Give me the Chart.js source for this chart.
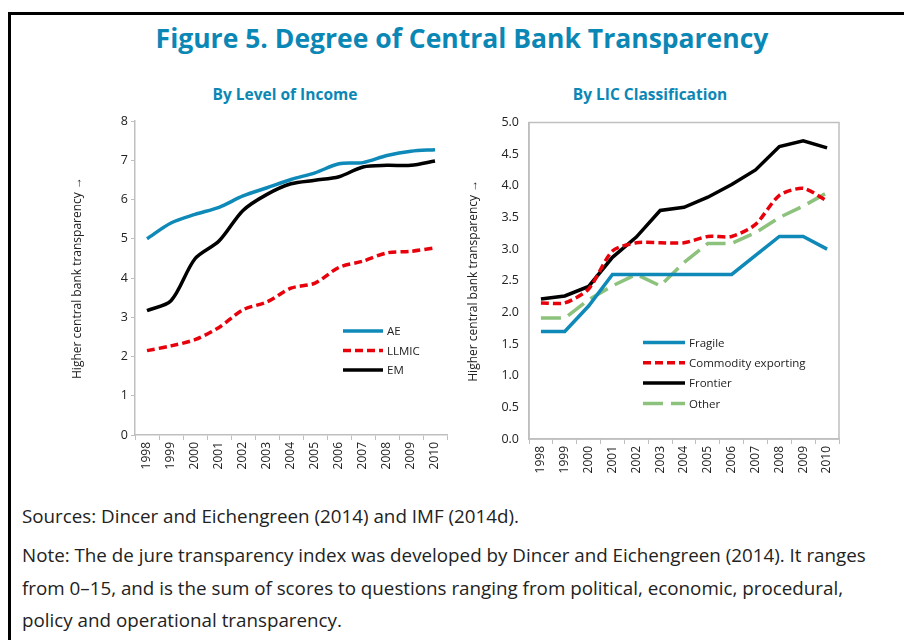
<!DOCTYPE html>
<html>
<head>
<meta charset="utf-8">
<script src="https://cdn.jsdelivr.net/npm/chart.js@4.4.1/dist/chart.umd.min.js"></script>
<style>
  body { margin: 0; background: #fff; font-family: 'Open Sans', sans-serif; }
  #page { position: relative; width: 904px; height: 640px; overflow: hidden; }
  #frame { position: absolute; left: 8px; top: 12px; width: 920px; height: 660px;
    border-top: 3px solid #000; border-left: 3px solid #000; }
  #title { position: absolute; left: 0; width: 924px; top: 20px; text-align: center;
    font-size: 26.5px; font-weight: 700; color: #0b87b5; line-height: 36px; }
  .sub { position: absolute; top: 83px; font-size: 15.5px; font-weight: 700; color: #0b87b5;
    text-align: center; width: 300px; line-height: 22px; }
  canvas { position: absolute; }
  .note { position: absolute; left: 22px; font-size: 18.8px; color: #222; line-height: 32.5px;
    white-space: nowrap; }
</style>
</head>
<body>
<div id="page">
  <div id="frame"></div>
  <div id="title">Figure 5. Degree of Central Bank Transparency</div>
  <div class="sub" style="left:135px">By Level of Income</div>
  <div class="sub" style="left:500px">By LIC Classification</div>
  <canvas id="incomeChart" width="400" height="370" style="left:60px;top:105px"></canvas>
  <canvas id="licChart" width="400" height="374" style="left:455px;top:105px"></canvas>
  <div class="note" style="top:500px">Sources: Dincer and Eichengreen (2014) and IMF (2014d).</div>
  <div class="note" style="top:539px">Note: The de jure transparency index was developed by Dincer and Eichengreen (2014). It ranges<br>from 0–15, and is the sum of scores to questions ranging from political, economic, procedural,<br>policy and operational transparency.</div>
</div>
<script>
const years = ['1998', '1999', '2000', '2001', '2002', '2003', '2004', '2005', '2006', '2007', '2008', '2009', '2010']

// By level of income
const ae = [5.0, 5.4, 5.62, 5.8, 6.09, 6.3, 6.51, 6.68, 6.91, 6.94, 7.12, 7.23, 7.27]
const llmic = [2.15, 2.27, 2.43, 2.74, 3.19, 3.39, 3.74, 3.87, 4.27, 4.43, 4.64, 4.68, 4.77]
const em = [3.17, 3.42, 4.49, 4.94, 5.72, 6.13, 6.4, 6.49, 6.58, 6.83, 6.87, 6.87, 6.98]

// By LIC classification
const fragile = [1.7, 1.7, 2.1, 2.6, 2.6, 2.6, 2.6, 2.6, 2.6, 2.9, 3.2, 3.2, 3.0]
const commodity = [2.15, 2.15, 2.37, 2.97, 3.1, 3.1, 3.1, 3.2, 3.2, 3.39, 3.85, 3.96, 3.76]
const frontier = [2.21, 2.26, 2.41, 2.87, 3.19, 3.61, 3.66, 3.82, 4.02, 4.25, 4.62, 4.71, 4.6]
const other = [1.91, 1.91, 2.2, 2.42, 2.6, 2.42, 2.79, 3.09, 3.09, 3.26, 3.5, 3.68, 3.89]

const yTitle = 'Higher central bank transparency \u2192'
const blue = '#0e89b8'
const red = '#e8000b'
const green = '#8cc27c'
const axisGray = '#bfbfbf'
const textColor = '#222'
const font = { family: "'Open Sans', sans-serif", size: 12.5 }

// legend drawn inside the plot area, placed relative to chartArea
const lineLegend = {
  id: 'lineLegend',
  afterDraw(chart, args, opts) {
    const { ctx, chartArea } = chart
    ctx.save()
    ctx.font = "11.5px 'Open Sans', sans-serif"
    ctx.textBaseline = 'middle'
    chart.data.datasets.forEach((ds, i) => {
      const x = chartArea.left + opts.x
      const y = chartArea.top + opts.y + i * opts.gap
      ctx.strokeStyle = ds.borderColor
      ctx.lineWidth = ds.borderWidth
      ctx.setLineDash(ds.borderDash || [])
      ctx.beginPath()
      ctx.moveTo(x, y)
      ctx.lineTo(x + opts.len, y)
      ctx.stroke()
      ctx.fillStyle = '#222'
      ctx.fillText(ds.label, x + opts.len + 4, y + 1)
    })
    ctx.restore()
  },
}

// grey frame around the plot area (right chart only)
const plotBox = {
  id: 'plotBox',
  beforeDatasetsDraw(chart, args, opts) {
    if (!opts.show) return
    const { ctx, chartArea } = chart
    ctx.save()
    ctx.strokeStyle = axisGray
    ctx.lineWidth = 1.5
    ctx.strokeRect(chartArea.left, chartArea.top, chartArea.right - chartArea.left, chartArea.bottom - chartArea.top)
    ctx.restore()
  },
}

function makeOptions(cfg) {
  return {
    responsive: false,
    devicePixelRatio: 1,
    animation: false,
    layout: { padding: cfg.padding },
    elements: { point: { radius: 0 } },
    plugins: {
      legend: { display: false },
      tooltip: { enabled: false },
      lineLegend: cfg.legend,
      plotBox: { show: cfg.box },
    },
    scales: {
      x: {
        offset: true,
        grid: { offset: true, drawOnChartArea: false, drawTicks: true, tickLength: 5, color: axisGray },
        border: { color: axisGray, width: 1.5 },
        ticks: { minRotation: 90, maxRotation: 90, padding: 2, color: textColor, font: { ...font, size: 12 } },
        afterFit: (scale) => { scale.height = 40 },
      },
      y: {
        min: 0,
        max: cfg.max,
        grid: { drawOnChartArea: false, drawTicks: cfg.yTicks, tickLength: 4, color: axisGray },
        border: { color: axisGray, width: 1.5 },
        ticks: {
          stepSize: cfg.step,
          padding: cfg.tickPad,
          color: textColor,
          font,
          callback: cfg.fmt,
        },
        title: { display: true, text: yTitle, color: '#222', font: { ...font, size: 12 }, padding: { top: cfg.titlePad, bottom: 0 } },
        afterFit: (scale) => { scale.width = cfg.yWidth },
      },
    },
  }
}

new Chart(document.getElementById('incomeChart'), {
  type: 'line',
  data: {
    labels: years,
    datasets: [
      { label: 'AE', data: ae, borderColor: blue, borderWidth: 3.5, tension: 0.3 },
      { label: 'LLMIC', data: llmic, borderColor: red, borderWidth: 3.5, borderDash: [8, 4], tension: 0.3 },
      { label: 'EM', data: em, borderColor: '#000', borderWidth: 3.5, tension: 0.3 },
    ],
  },
  options: makeOptions({
    padding: { top: 16, right: 13, bottom: 0, left: 0 },
    legend: { x: 208, y: 210, gap: 19.5, len: 40 },
    box: false,
    max: 8,
    step: 1,
    yTicks: true,
    tickPad: 3,
    fmt: (v) => v,
    titlePad: 10,
    yWidth: 75,
  }),
  plugins: [lineLegend, plotBox],
})

new Chart(document.getElementById('licChart'), {
  type: 'line',
  data: {
    labels: years,
    datasets: [
      { label: 'Fragile', data: fragile, borderColor: blue, borderWidth: 3.5, tension: 0 },
      { label: 'Commodity exporting', data: commodity, borderColor: red, borderWidth: 3.5, borderDash: [8, 4], tension: 0.25 },
      { label: 'Frontier', data: frontier, borderColor: '#000', borderWidth: 3.5, tension: 0 },
      { label: 'Other', data: other, borderColor: green, borderWidth: 3.5, borderDash: [20, 8], tension: 0 },
    ],
  },
  options: makeOptions({
    padding: { top: 15, right: 16, bottom: 0, left: 0 },
    legend: { x: 114, y: 220, gap: 20.3, len: 42 },
    box: true,
    max: 5,
    step: 0.5,
    yTicks: false,
    tickPad: 10,
    fmt: (v) => Number(v).toFixed(1),
    titlePad: 11,
    yWidth: 74,
  }),
  plugins: [lineLegend, plotBox],
})
</script>
</body>
</html>
